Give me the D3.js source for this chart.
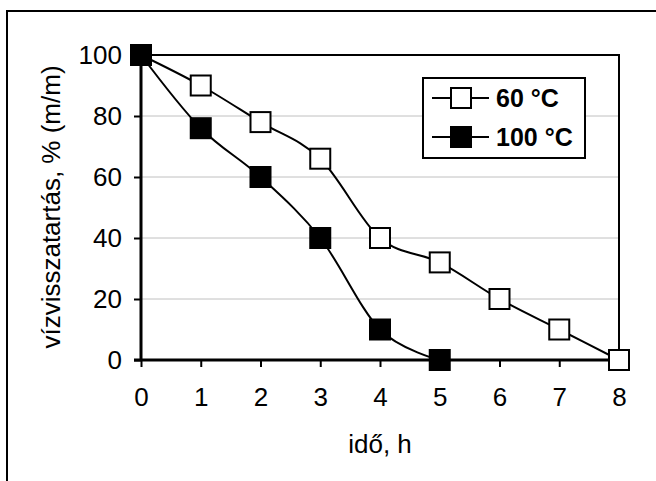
<!DOCTYPE html>
<html><head><meta charset="utf-8">
<script src="https://cdn.jsdelivr.net/npm/d3@7"></script>
<style>html,body{margin:0;padding:0;background:#fff;}svg{display:block;font-family:"Liberation Sans",Arial,sans-serif;}</style>
</head><body>
<svg id="c" width="656" height="481"></svg>
<script>
const hours = [0,1,2,3,4,5,6,7,8];
const s60 = [100,90,78,66,40,32,20,10,0];
const s100 = [100,76,60,40,10,0];
const seriesNames = ["60 °C","100 °C"];
const yTicks = [0,20,40,60,80,100];
const xTicks = [0,1,2,3,4,5,6,7,8];
const xTitle = "idő, h";
const yTitle = "vízvisszatartás, % (m/m)";

const svg = d3.select("#c");
// outer frame
svg.append("rect").attr("x",7).attr("y",11).attr("width",660).attr("height",480)
  .attr("fill","none").attr("stroke","#000").attr("stroke-width",2);

const L=141,T=55,R=619,B=360;
const x = d3.scaleLinear().domain([0,8]).range([L,R]);
const y = d3.scaleLinear().domain([0,100]).range([B,T]);

// grid
svg.append("g").selectAll("line").data(yTicks.filter(d=>d>0&&d<100)).join("line")
  .attr("x1",L).attr("x2",R).attr("y1",d=>y(d)).attr("y2",d=>y(d))
  .attr("stroke","#c0c0c0").attr("stroke-width",1);

// plot border
svg.append("rect").attr("x",L).attr("y",T).attr("width",R-L).attr("height",B-T)
  .attr("fill","none").attr("stroke","#000").attr("stroke-width",2);

// axes
const xa = svg.append("g").attr("transform",`translate(0,${B})`)
  .call(d3.axisBottom(x).tickValues(xTicks).tickSize(7).tickPadding(21).tickFormat(d3.format("d")));
const ya = svg.append("g").attr("transform",`translate(${L},0)`)
  .call(d3.axisLeft(y).tickValues(yTicks).tickSize(7).tickPadding(12).tickFormat(d3.format("d")));
[xa,ya].forEach(a=>{
  a.attr("font-size",26).attr("font-family","Liberation Sans, Arial, sans-serif");
  a.select(".domain").attr("stroke","#000").attr("stroke-width",3);
  a.selectAll(".tick line").attr("stroke","#000").attr("stroke-width",2);
  a.selectAll(".tick text").attr("fill","#000");
});
ya.select(".domain").attr("d",`M0,${T}V${B}`);
xa.select(".domain").attr("d",`M${L-7},0H${R}`);

// titles
svg.append("text").attr("x",380).attr("y",453).attr("text-anchor","middle")
  .attr("font-size",26).text(xTitle);
svg.append("text").attr("transform","translate(60,207) rotate(-90)").attr("text-anchor","middle")
  .attr("font-size",26).text(yTitle);

const line = d3.line().x(d=>x(d[0])).y(d=>y(d[1])).curve(d3.curveCatmullRom.alpha(0));
const d60 = hours.map((h,i)=>[h,s60[i]]);
const d100 = s100.map((v,i)=>[hours[i],v]);
const ms = 20;
function draw(data, fill){
  svg.append("path").datum(data).attr("d",line).attr("fill","none").attr("stroke","#000").attr("stroke-width",2);
  svg.append("g").selectAll("rect").data(data).join("rect")
    .attr("x",d=>x(d[0])-ms/2).attr("y",d=>y(d[1])-ms/2).attr("width",ms).attr("height",ms)
    .attr("fill",fill).attr("stroke","#000").attr("stroke-width",2);
}
draw(d60,"#fff");
draw(d100,"#000");

// legend
const lg = svg.append("g");
lg.append("rect").attr("x",423).attr("y",78).attr("width",162).attr("height",80)
  .attr("fill","#fff").attr("stroke","#000").attr("stroke-width",2);
[[98,"#fff",seriesNames[0]],[137,"#000",seriesNames[1]]].forEach(([ly,f,t])=>{
  lg.append("line").attr("x1",432).attr("x2",489).attr("y1",ly).attr("y2",ly).attr("stroke","#000").attr("stroke-width",2);
  lg.append("rect").attr("x",461-ms/2).attr("y",ly-ms/2).attr("width",ms).attr("height",ms)
    .attr("fill",f).attr("stroke","#000").attr("stroke-width",2);
  lg.append("text").attr("x",496).attr("y",ly+9).attr("font-size",25).attr("font-weight","bold").text(t);
});
</script>
</body></html>
